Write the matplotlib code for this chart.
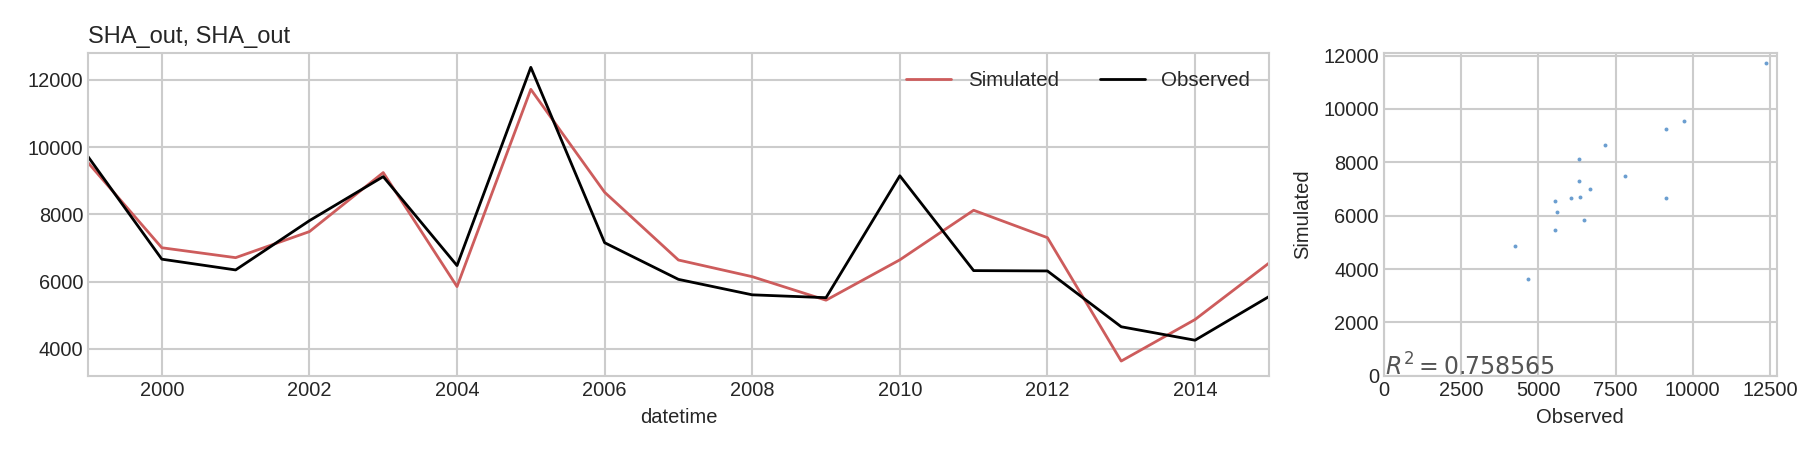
import numpy as np
import matplotlib
matplotlib.use("Agg")
import matplotlib.pyplot as plt

# yearly values
years = [1999, 2000, 2001, 2002, 2003, 2004, 2005, 2006, 2007,
         2008, 2009, 2010, 2011, 2012, 2013, 2014, 2015]
simulated = [9540, 7010, 6715, 7490, 9245, 5855, 11720, 8660, 6645,
             6150, 5450, 6650, 8125, 7310, 3640, 4875, 6550]
observed = [9720, 6670, 6350, 7815, 9125, 6480, 12375, 7160, 6070,
            5610, 5525, 9150, 6330, 6320, 4660, 4260, 5555]
r_squared = 0.758565

plt.style.use('seaborn-v0_8-whitegrid')
plt.rcParams['font.family'] = ['Liberation Sans', 'DejaVu Sans']
plt.rcParams['font.size'] = 14.4
plt.rcParams['axes.edgecolor'] = '#cccccc'
plt.rcParams['axes.linewidth'] = 1.5
plt.rcParams['grid.linewidth'] = 1.5
plt.rcParams['text.color'] = '#262626'
plt.rcParams['xtick.color'] = '#262626'
plt.rcParams['ytick.color'] = '#262626'
plt.rcParams['axes.labelcolor'] = '#262626'

fig = plt.figure(figsize=(18, 4.5), dpi=100)
ax_ts = fig.add_axes([0.0489, 0.165, 0.656, 0.718])
ax_sc = fig.add_axes([0.7688, 0.165, 0.2183, 0.718])

# time series
ax_ts.plot(years, simulated, color='indianred', lw=2, label='Simulated')
ax_ts.plot(years, observed, color='black', lw=2, label='Observed')
ax_ts.set_xlim(1999, 2015)
ax_ts.set_xticks(range(2000, 2015, 2))
ax_ts.set_xlabel('datetime', fontsize=14.5, labelpad=6)
ax_ts.set_title('SHA_out, SHA_out', loc='left', fontsize=17, pad=7)
ax_ts.legend(loc='upper right', ncol=2, frameon=False, fontsize=14.8,
             handlelength=2.2)

# scatter of simulated vs observed
ax_sc.scatter(observed, simulated, s=8, color='#6b9ed0', linewidths=0)
ax_sc.set_xlim(0, 12720)
ax_sc.set_ylim(0, 12110)
ax_sc.set_xticks(np.arange(0, 12501, 2500))
ax_sc.set_yticks(np.arange(0, 12001, 2000))
ax_sc.set_xlabel('Observed', fontsize=14.5, labelpad=6)
ax_sc.set_ylabel('Simulated', fontsize=14.5, labelpad=8)
ax_sc.text(0.003, 0.0, '$R^2 = %s$' % r_squared, transform=ax_sc.transAxes,
           ha='left', va='baseline', fontsize=17, color='#555555')

fig.savefig('out.png', dpi=100)
